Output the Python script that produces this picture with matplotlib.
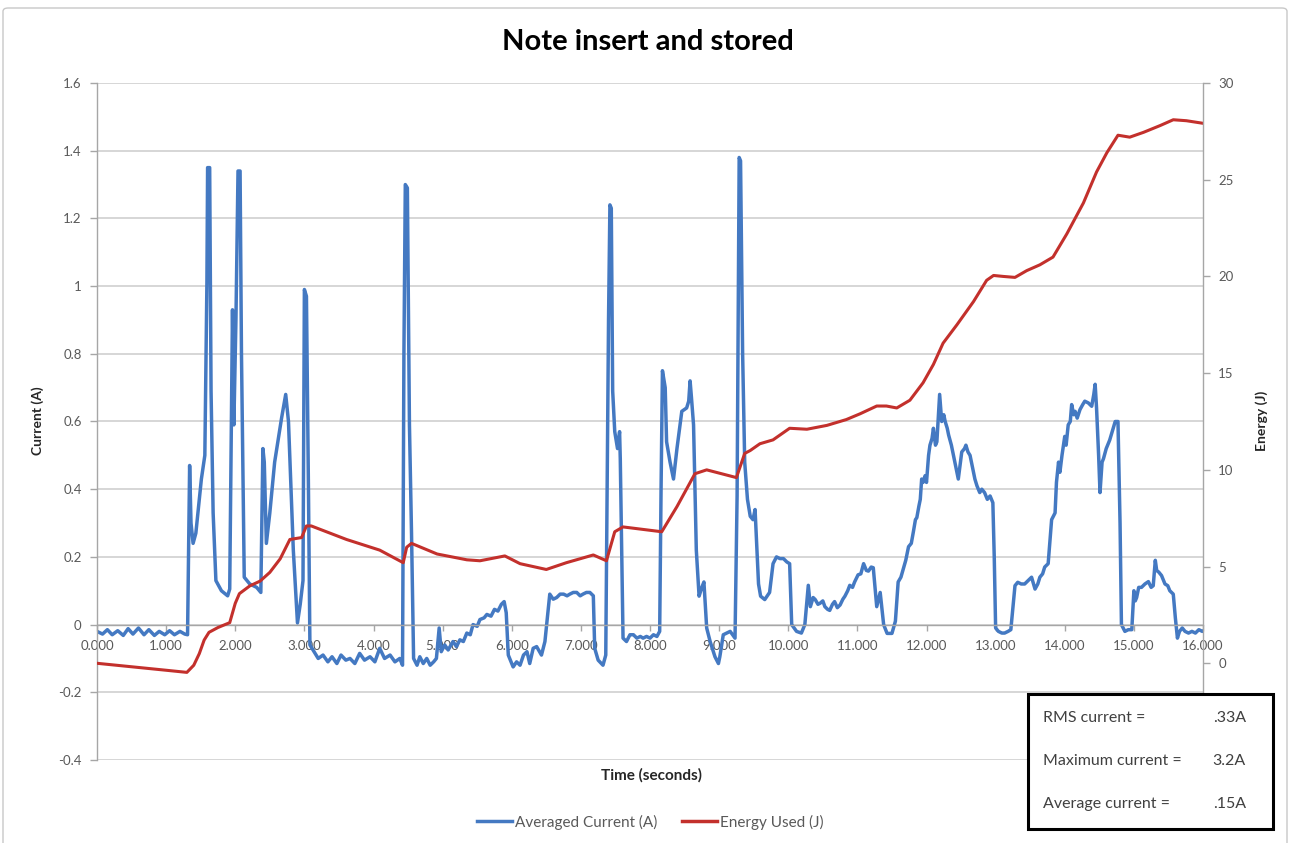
import matplotlib.pyplot as plt
from matplotlib.lines import Line2D
from matplotlib.patches import Rectangle, FancyBboxPatch

plt.rcParams['font.family'] = ['Lato', 'DejaVu Sans']

# averaged current trace (seconds, amps)
time_s = [
    0.00, 0.08, 0.15, 0.22, 0.30, 0.38, 0.45, 0.52, 0.60, 0.68, 0.75, 0.83, 0.90, 0.98,
    1.05, 1.12, 1.20, 1.27, 1.31, 1.34, 1.36, 1.39, 1.43, 1.51, 1.56, 1.59, 1.60, 1.63,
    1.65, 1.68, 1.72, 1.80, 1.89, 1.92, 1.96, 1.98, 2.01, 2.04, 2.07, 2.09, 2.13, 2.21,
    2.31, 2.37, 2.40, 2.42, 2.45, 2.50, 2.57, 2.67, 2.73, 2.77, 2.84, 2.90, 2.94, 2.98,
    3.00, 3.03, 3.06, 3.08, 3.14, 3.20, 3.27, 3.34, 3.40, 3.47, 3.53, 3.60, 3.66, 3.73,
    3.80, 3.87, 3.95, 4.02, 4.09, 4.16, 4.24, 4.31, 4.38, 4.42, 4.44, 4.46, 4.49, 4.52,
    4.55, 4.58, 4.63, 4.67, 4.72, 4.77, 4.82, 4.87, 4.91, 4.95, 4.98, 5.03, 5.08, 5.15,
    5.20, 5.25, 5.30, 5.35, 5.40, 5.44, 5.50, 5.54, 5.60, 5.64, 5.70, 5.75, 5.80, 5.85,
    5.89, 5.92, 5.95, 6.02, 6.07, 6.12, 6.17, 6.22, 6.26, 6.31, 6.36, 6.43, 6.48, 6.55,
    6.60, 6.65, 6.70, 6.75, 6.80, 6.84, 6.89, 6.94, 6.99, 7.03, 7.08, 7.13, 7.18, 7.20,
    7.25, 7.32, 7.36, 7.40, 7.42, 7.44, 7.46, 7.49, 7.53, 7.56, 7.57, 7.61, 7.66, 7.71,
    7.76, 7.81, 7.86, 7.90, 7.95, 8.00, 8.05, 8.10, 8.14, 8.16, 8.18, 8.22, 8.24, 8.29,
    8.34, 8.39, 8.46, 8.53, 8.56, 8.58, 8.60, 8.63, 8.67, 8.71, 8.75, 8.78, 8.82, 8.87,
    8.94, 8.99, 9.01, 9.06, 9.11, 9.16, 9.23, 9.26, 9.29, 9.31, 9.34, 9.37, 9.41, 9.45,
    9.49, 9.52, 9.57, 9.60, 9.66, 9.73, 9.78, 9.83, 9.88, 9.93, 9.98, 10.02, 10.05, 10.12,
    10.19, 10.24, 10.29, 10.32, 10.36, 10.39, 10.43, 10.46, 10.50, 10.53, 10.57, 10.60, 10.64, 10.67,
    10.71, 10.75, 10.79, 10.82, 10.86, 10.89, 10.93, 10.96, 11.01, 11.05, 11.09, 11.13, 11.16, 11.20,
    11.23, 11.28, 11.33, 11.38, 11.43, 11.50, 11.55, 11.59, 11.63, 11.67, 11.70, 11.74, 11.78, 11.81,
    11.84, 11.86, 11.89, 11.91, 11.93, 11.95, 11.98, 12.00, 12.03, 12.05, 12.08, 12.10, 12.13, 12.15,
    12.19, 12.22, 12.25, 12.27, 12.30, 12.32, 12.36, 12.39, 12.43, 12.46, 12.51, 12.55, 12.57, 12.60,
    12.63, 12.67, 12.70, 12.73, 12.77, 12.80, 12.84, 12.88, 12.92, 12.96, 12.98, 13.00, 13.04, 13.09,
    13.13, 13.18, 13.22, 13.25, 13.28, 13.32, 13.37, 13.42, 13.47, 13.52, 13.57, 13.61, 13.64, 13.68,
    13.71, 13.76, 13.79, 13.81, 13.86, 13.88, 13.91, 13.93, 13.96, 14.00, 14.02, 14.05, 14.08, 14.10,
    14.13, 14.15, 14.18, 14.22, 14.26, 14.29, 14.34, 14.39, 14.42, 14.44, 14.46, 14.49, 14.51, 14.54,
    14.56, 14.60, 14.65, 14.70, 14.73, 14.77, 14.80, 14.82, 14.87, 14.92, 14.97, 15.00, 15.02, 15.04,
    15.07, 15.11, 15.16, 15.21, 15.25, 15.28, 15.31, 15.33, 15.36, 15.40, 15.45, 15.49, 15.52, 15.57,
    15.60, 15.63, 15.66, 15.70, 15.74, 15.79, 15.84, 15.89, 15.94, 15.99, 16.03,
]
current_a = [
    -0.020, -0.028, -0.015, -0.030, -0.018, -0.032, -0.012, -0.028, -0.010, -0.030, -0.015, -0.032, -0.020, -0.030,
    -0.018, -0.030, -0.020, -0.028, -0.030, 0.47, 0.30, 0.24, 0.27, 0.43, 0.50, 1.01, 1.35, 1.35,
    0.69, 0.33, 0.13, 0.10, 0.085, 0.105, 0.93, 0.59, 0.90, 1.34, 1.34, 0.80, 0.14, 0.12,
    0.11, 0.095, 0.52, 0.48, 0.24, 0.33, 0.48, 0.61, 0.68, 0.60, 0.22, 0.005, 0.06, 0.13,
    0.99, 0.97, 0.38, -0.06, -0.08, -0.10, -0.09, -0.11, -0.095, -0.115, -0.09, -0.105, -0.10, -0.115,
    -0.085, -0.105, -0.095, -0.11, -0.07, -0.10, -0.09, -0.11, -0.10, -0.12, 0.80, 1.30, 1.29, 0.59,
    0.27, -0.10, -0.12, -0.095, -0.115, -0.10, -0.12, -0.11, -0.10, -0.01, -0.08, -0.06, -0.075, -0.05,
    -0.065, -0.045, -0.05, -0.025, -0.03, 0.00, -0.005, 0.015, 0.02, 0.03, 0.025, 0.045, 0.04, 0.06,
    0.068, 0.035, -0.09, -0.125, -0.11, -0.12, -0.09, -0.08, -0.115, -0.07, -0.065, -0.09, -0.05, 0.09,
    0.075, 0.08, 0.09, 0.09, 0.085, 0.09, 0.095, 0.095, 0.085, 0.09, 0.095, 0.095, 0.085, -0.07,
    -0.105, -0.12, -0.09, 0.90, 1.24, 1.23, 0.69, 0.57, 0.52, 0.57, 0.49, -0.04, -0.05, -0.03,
    -0.03, -0.04, -0.035, -0.04, -0.035, -0.04, -0.03, -0.035, -0.02, 0.40, 0.75, 0.70, 0.54, 0.48,
    0.43, 0.52, 0.63, 0.64, 0.66, 0.72, 0.67, 0.59, 0.22, 0.084, 0.11, 0.126, -0.01, -0.05,
    -0.095, -0.115, -0.095, -0.03, -0.025, -0.02, -0.04, 0.38, 1.38, 1.37, 0.80, 0.48, 0.37, 0.32,
    0.31, 0.34, 0.12, 0.084, 0.074, 0.095, 0.18, 0.20, 0.195, 0.195, 0.185, 0.18, 0.00, -0.02,
    -0.025, 0.00, 0.116, 0.053, 0.08, 0.074, 0.06, 0.063, 0.07, 0.053, 0.045, 0.042, 0.06, 0.068,
    0.05, 0.058, 0.075, 0.084, 0.10, 0.116, 0.11, 0.126, 0.147, 0.15, 0.18, 0.16, 0.158, 0.17,
    0.168, 0.053, 0.095, 0.00, -0.026, -0.026, 0.01, 0.126, 0.14, 0.168, 0.19, 0.23, 0.24, 0.274,
    0.31, 0.316, 0.35, 0.37, 0.43, 0.42, 0.44, 0.42, 0.50, 0.53, 0.55, 0.58, 0.53, 0.54,
    0.68, 0.60, 0.62, 0.60, 0.58, 0.56, 0.53, 0.50, 0.46, 0.43, 0.51, 0.52, 0.53, 0.51,
    0.50, 0.46, 0.43, 0.41, 0.39, 0.40, 0.39, 0.37, 0.38, 0.36, 0.20, -0.01, -0.02, -0.025,
    -0.025, -0.02, -0.015, 0.05, 0.115, 0.125, 0.12, 0.12, 0.13, 0.14, 0.105, 0.12, 0.14, 0.15,
    0.17, 0.18, 0.26, 0.31, 0.33, 0.42, 0.48, 0.45, 0.50, 0.556, 0.53, 0.59, 0.60, 0.65,
    0.62, 0.63, 0.61, 0.635, 0.65, 0.66, 0.655, 0.645, 0.68, 0.71, 0.64, 0.50, 0.39, 0.48,
    0.49, 0.52, 0.545, 0.58, 0.60, 0.60, 0.30, 0.00, -0.02, -0.015, -0.015, 0.10, 0.07, 0.08,
    0.11, 0.11, 0.12, 0.127, 0.11, 0.115, 0.19, 0.16, 0.155, 0.145, 0.12, 0.115, 0.10, 0.09,
    0.02, -0.04, -0.02, -0.01, -0.02, -0.025, -0.02, -0.025, -0.015, -0.02, -0.015,
]

# cumulative energy (seconds, joules)
energy_time_s = [
    0.00, 0.50, 1.00, 1.30, 1.40, 1.48, 1.55, 1.62, 1.75, 1.92, 2.00, 2.06, 2.21, 2.36,
    2.50, 2.65, 2.79, 2.96, 3.03, 3.10, 3.61, 4.09, 4.43, 4.48, 4.55, 4.92, 5.35, 5.54,
    5.90, 6.12, 6.50, 6.79, 7.18, 7.37, 7.49, 7.61, 8.17, 8.39, 8.65, 8.82, 9.25, 9.37,
    9.45, 9.59, 9.78, 10.02, 10.27, 10.56, 10.84, 11.04, 11.28, 11.42, 11.57, 11.76, 11.95, 12.10,
    12.24, 12.44, 12.68, 12.87, 12.97, 13.11, 13.28, 13.45, 13.64, 13.83, 14.03, 14.27, 14.46, 14.61,
    14.77, 14.94, 15.14, 15.38, 15.57, 15.76, 16.03,
]
energy_j = [
    0.00, -0.18, -0.36, -0.47, -0.10, 0.50, 1.20, 1.60, 1.85, 2.10, 3.10, 3.60, 4.00, 4.25,
    4.70, 5.40, 6.40, 6.50, 7.10, 7.10, 6.40, 5.85, 5.20, 6.00, 6.20, 5.65, 5.35, 5.30,
    5.55, 5.15, 4.85, 5.20, 5.60, 5.30, 6.80, 7.05, 6.80, 8.10, 9.80, 10.00, 9.60, 10.85,
    11.00, 11.35, 11.55, 12.15, 12.10, 12.30, 12.60, 12.90, 13.30, 13.30, 13.20, 13.60, 14.50, 15.45,
    16.55, 17.50, 18.70, 19.80, 20.05, 20.00, 19.95, 20.30, 20.60, 21.00, 22.20, 23.80, 25.40, 26.40,
    27.30, 27.20, 27.45, 27.80, 28.10, 28.05, 27.90,
]

x_ticks = list(range(0, 17))
x_tick_labels = [f"{v:.3f}" for v in x_ticks]
current_ticks = [-0.4, -0.2, 0, 0.2, 0.4, 0.6, 0.8, 1, 1.2, 1.4, 1.6]
current_tick_labels = ["-0.4", "-0.2", "0", "0.2", "0.4", "0.6", "0.8", "1", "1.2", "1.4", "1.6"]
energy_ticks = [0, 5, 10, 15, 20, 25, 30]

stats_names = ["RMS current =", "Maximum current =", "Average current ="]
stats_values = [".33A", "3.2A", ".15A"]

BLUE = '#4479c2'
RED = '#c3302c'
GREY_TEXT = '#595959'
GRID = '#d0d0d0'
W, H = 1295, 843

fig = plt.figure(figsize=(W / 100, H / 100), dpi=100)
ax = fig.add_axes([97 / W, 1 - 760 / H, (1203 - 97) / W, (760 - 83) / H])
ax2 = ax.twinx()

ax.plot(time_s, current_a, color=BLUE, lw=2.5, solid_joinstyle='round')
ax2.plot(energy_time_s, energy_j, color=RED, lw=2.2, solid_joinstyle='round')

ax.set_xlim(0, 16)
ax.set_ylim(-0.4, 1.6)
ax2.set_ylim(-5, 30)

ax.set_yticks(current_ticks)
ax.set_yticklabels(current_tick_labels)
ax.set_xticks(x_ticks)
ax.set_xticklabels(x_tick_labels)
ax2.set_yticks(energy_ticks)

ax.grid(axis='y', color=GRID, lw=1.2)
ax.set_axisbelow(True)

for a in (ax, ax2):
    a.spines['top'].set_visible(False)
    for s in ('left', 'right', 'bottom'):
        a.spines[s].set_color('#a6a6a6')
        a.spines[s].set_linewidth(1.0)
ax.spines['right'].set_visible(False)
ax2.spines['left'].set_visible(False)
ax2.spines['bottom'].set_visible(False)
ax.spines['bottom'].set_position(('data', 0))

ax.tick_params(axis='x', direction='out', length=4, width=1, color='#a6a6a6',
               labelsize=9.5, labelcolor=GREY_TEXT, pad=7)
ax.tick_params(axis='y', direction='out', length=5, width=1, color='#a6a6a6',
               labelsize=9.5, labelcolor=GREY_TEXT, pad=6)
ax2.tick_params(axis='y', direction='out', length=5, width=1, color='#a6a6a6',
                labelsize=9.5, labelcolor=GREY_TEXT, pad=6)

# titles
fig.text(648 / W, 1 - 42 / H, "Note insert and stored", ha='center', va='center',
         fontsize=21, fontweight='bold', color='black')
fig.text(38 / W, 1 - 421 / H, "Current (A)", rotation=90, ha='center', va='center',
         fontsize=10, fontweight='bold', color='#262626')
fig.text(1262 / W, 1 - 421 / H, "Energy (J)", rotation=90, ha='center', va='center',
         fontsize=10, fontweight='bold', color='#262626')
fig.text(652 / W, 1 - 775 / H, "Time (seconds)", ha='center', va='center',
         fontsize=11, fontweight='bold', color='#262626')

handles = [Line2D([], [], color=BLUE, lw=2.5), Line2D([], [], color=RED, lw=2.5)]
leg = fig.legend(handles, ["Averaged Current (A)", "Energy Used (J)"], loc='center',
                 bbox_to_anchor=(650 / W, 1 - 822 / H), ncol=2, frameon=False,
                 fontsize=11, handlelength=2.3, handletextpad=0.2, columnspacing=1.6)
for t in leg.get_texts():
    t.set_color(GREY_TEXT)

# outer chart frame
fig.add_artist(FancyBboxPatch((3 / W, -0.02), 1284 / W, 1 - 8 / H + 0.02,
                              boxstyle='round,pad=0,rounding_size=0.004',
                              transform=fig.transFigure, fill=False,
                              edgecolor='#c8c8c8', lw=1.0, zorder=-1))

# stats box
fig.add_artist(Rectangle((1028 / W, 1 - 829 / H), 245 / W, 135 / H,
                         transform=fig.transFigure, facecolor='white',
                         edgecolor='black', lw=2.2, zorder=5))
for i, (name, val) in enumerate(zip(stats_names, stats_values)):
    yy = 1 - (718 + 43 * i) / H
    fig.text(1043 / W, yy, name, ha='left', va='center', fontsize=11.5,
             color='#404040', zorder=6)
    fig.text(1246 / W, yy, val, ha='right', va='center', fontsize=11.5,
             color='#404040', zorder=6)

fig.savefig('out.png', dpi=100)
